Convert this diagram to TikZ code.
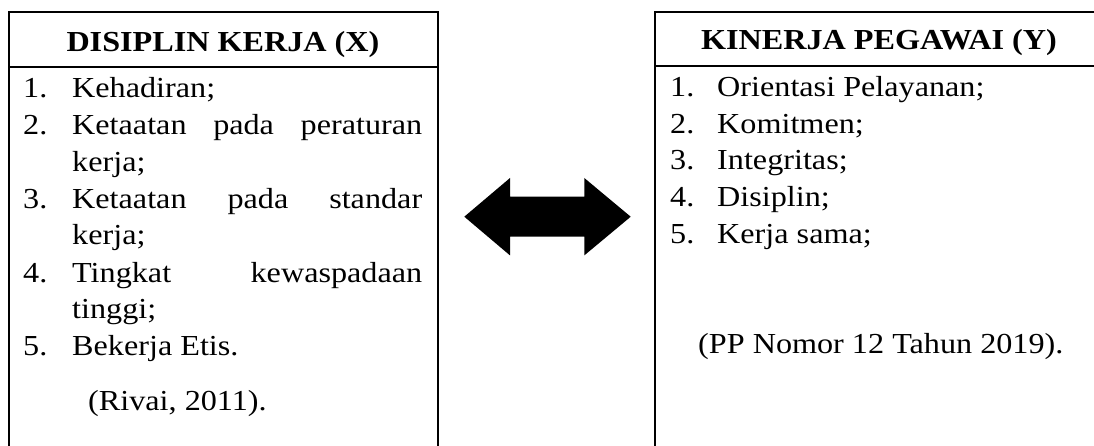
\documentclass[tikz,border=0pt]{standalone}
\usepackage{fontspec}
\setmainfont{Liberation Serif}[FakeStretch=1.11]
\begin{document}
\begin{tikzpicture}[x=1pt,y=-1pt,
  txt/.style={anchor=base west, inner sep=0pt, font=\fontsize{29}{36}\selectfont},
  hdr/.style={anchor=base, inner sep=0pt, font=\fontsize{29}{36}\selectfont\bfseries},
  frame/.style={line width=2pt, line join=miter},
  arrowshape/.style={fill=black}]
\useasboundingbox (0,0) rectangle (1094,446);
\clip (0,0) rectangle (1094,446);
% left box
\draw[frame] (8.5,460) -- (8.5,12) -- (438,12) -- (438,460);
\draw[frame] (8.5,67.5) -- (438,67.5);
\node[hdr] (hx) at (223,51.7) {DISIPLIN KERJA (X)};
\node[txt] (n1) at (23,98) {1.};
\node[txt] (x1) at (72,98) {Kehadiran;};
\node[txt] (n2) at (23,135) {2.};
\node[txt] (x2) at (72,135) {\makebox[350pt][s]{Ketaatan pada peraturan}};
\node[txt] (x2b) at (72,172) {kerja;};
\node[txt] (n3) at (23,208.5) {3.};
\node[txt] (x3) at (72,208.5) {\makebox[350pt][s]{Ketaatan pada standar}};
\node[txt] (x3b) at (72,245) {kerja;};
\node[txt] (n4) at (23,282) {4.};
\node[txt] (x4) at (72,282) {\makebox[350pt][s]{Tingkat kewaspadaan}};
\node[txt] (x4b) at (72,318.5) {tinggi;};
\node[txt] (n5) at (23,355) {5.};
\node[txt] (x5) at (72,355) {Bekerja Etis.};
\node[txt] (rx) at (88,410) {(Rivai, 2011).};
% right box
\draw[frame] (655,460) -- (655,12) -- (1110,12);
\draw[frame] (655,66.5) -- (1110,66.5);
\node[hdr] (hy) at (879,50) {KINERJA PEGAWAI (Y)};
\node[txt] (m1) at (670,96.7) {1.};
\node[txt] (y1) at (717,96.7) {Orientasi Pelayanan;};
\node[txt] (m2) at (670,133.3) {2.};
\node[txt] (y2) at (717,133.3) {Komitmen;};
\node[txt] (m3) at (670,170) {3.};
\node[txt] (y3) at (717,170) {Integritas;};
\node[txt] (m4) at (670,206.7) {4.};
\node[txt] (y4) at (717,206.7) {Disiplin;};
\node[txt] (m5) at (670,243.3) {5.};
\node[txt] (y5) at (717,243.3) {Kerja sama;};
\node[txt] (ry) at (698,353) {(PP Nomor 12 Tahun 2019).};
% double arrow
\coordinate (tipL) at (464.3,216.7);
\coordinate (tipR) at (630.7,216.7);
\fill[arrowshape] (tipL) -- (510,178) -- (510,196.7) -- (584.3,196.7) -- (584.3,178)
  -- (tipR) -- (584.3,255.4) -- (584.3,236.7) -- (510,236.7) -- (510,255.4) -- cycle;
\end{tikzpicture}
\end{document}
